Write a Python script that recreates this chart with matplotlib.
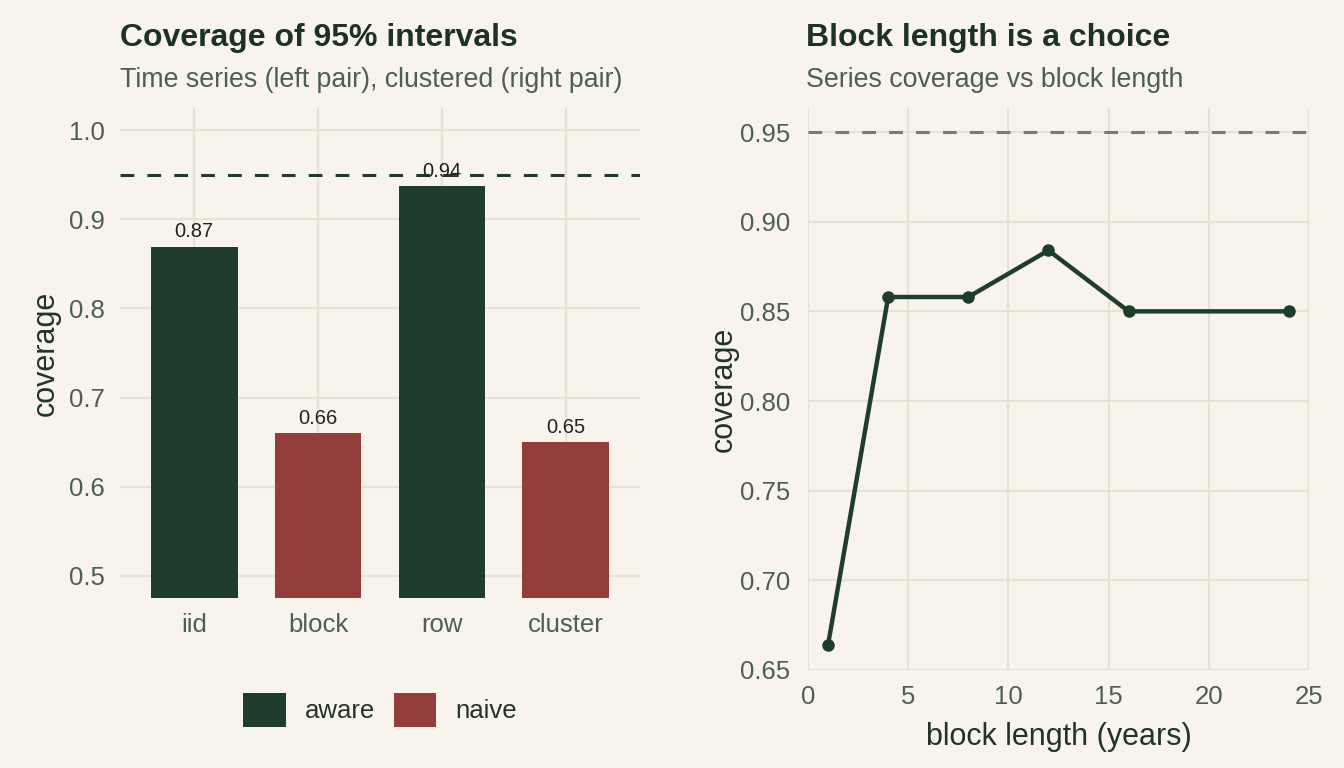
import matplotlib
matplotlib.use("Agg")
import matplotlib.pyplot as plt
from matplotlib.patches import Patch

plt.rcParams['font.family'] = ['Liberation Sans', 'DejaVu Sans']

# left panel: coverage by method
methods = ["iid", "block", "row", "cluster"]
coverage = [0.869, 0.66, 0.937, 0.65]
labels = ["0.87", "0.66", "0.94", "0.65"]
kind = ["aware", "naive", "aware", "naive"]

# right panel: coverage vs block length
block_len = [1, 4, 8, 12, 16, 24]
block_cov = [0.664, 0.858, 0.858, 0.884, 0.85, 0.85]
nominal = 0.95

BG = "#F8F4EC"
GREEN = "#1F3D2D"
RED = "#943D3D"
GRID = "#E7E2D4"
TICK = "#4D5E52"
TITLE = "#1C3324"
colors = {"aware": GREEN, "naive": RED}

fig = plt.figure(figsize=(13.44, 7.68), dpi=100, facecolor=BG)

def style(ax):
    ax.set_facecolor(BG)
    for s in ax.spines.values():
        s.set_visible(False)
    ax.grid(True, color=GRID, linewidth=1.6)
    ax.set_axisbelow(True)
    ax.tick_params(length=0, labelsize=18.5, labelcolor=TICK)

# ---- left
ax1 = fig.add_axes([120/1344, 1-598/768, 520/1344, 490/768])
style(ax1)
xs = range(len(methods))
ax1.bar(xs, coverage, width=0.7, color=[colors[k] for k in kind], zorder=2)
for x, v, t in zip(xs, coverage, labels):
    ax1.annotate(t, (x, v), xytext=(0, 4), textcoords="offset points",
                 ha="center", va="bottom", fontsize=14.5, color="#222222", zorder=4)
ax1.axhline(nominal, color=GREEN, linewidth=2.2, dashes=(4.5, 4.3), zorder=3)
ax1.set_xlim(-0.6, 3.6)
ax1.set_ylim(0.475, 1.025)
ax1.set_yticks([0.5, 0.6, 0.7, 0.8, 0.9, 1.0])
ax1.set_yticklabels(["0.5", "0.6", "0.7", "0.8", "0.9", "1.0"])
ax1.set_xticks(list(xs))
ax1.set_xticklabels(methods)
ax1.tick_params(axis="y", pad=11)
ax1.tick_params(axis="x", pad=11)
ax1.set_ylabel("coverage", fontsize=22, color="#22332A", labelpad=6)

fig.text(120/1344, 1-38/768, "Coverage of 95% intervals", fontsize=23,
         fontweight="bold", color=TITLE, ha="left", va="center")
fig.text(120/1344, 1-80/768, "Time series (left pair), clustered (right pair)",
         fontsize=19.3, color=TICK, ha="left", va="center")

handles = [Patch(facecolor=GREEN, label="aware"), Patch(facecolor=RED, label="naive")]
fig.legend(handles=handles, loc="center", bbox_to_anchor=(380/1344, 1-710/768),
           ncol=2, frameon=False, fontsize=18.5, handlelength=1.66, handleheight=1.66,
           handletextpad=0.74, columnspacing=0.74, borderpad=0, labelcolor="#22332A")

# ---- right
ax2 = fig.add_axes([808/1344, 1-670/768, 501/1344, 562/768])
style(ax2)
ax2.axhline(nominal, color="#7A7A72", linewidth=2.2, dashes=(4.5, 4.3), zorder=2)
ax2.plot(block_len, block_cov, color=GREEN, linewidth=3.2, marker="o",
         markersize=8, zorder=3, clip_on=False)
ax2.set_xlim(0, 25)
ax2.set_ylim(0.65, 0.9634)
ax2.set_xticks([0, 5, 10, 15, 20, 25])
ax2.set_yticks([0.65, 0.70, 0.75, 0.80, 0.85, 0.90, 0.95])
ax2.set_yticklabels(["0.65", "0.70", "0.75", "0.80", "0.85", "0.90", "0.95"])
ax2.tick_params(axis="y", pad=13)
ax2.tick_params(axis="x", pad=11)
ax2.set_ylabel("coverage", fontsize=22, color="#22332A", labelpad=1)
ax2.set_xlabel("block length (years)", fontsize=22, color="#22332A", labelpad=9)

fig.text(806/1344, 1-38/768, "Block length is a choice", fontsize=23,
         fontweight="bold", color=TITLE, ha="left", va="center")
fig.text(806/1344, 1-80/768, "Series coverage vs block length",
         fontsize=19.3, color=TICK, ha="left", va="center")

fig.savefig("out.png", dpi=100, facecolor=BG)
